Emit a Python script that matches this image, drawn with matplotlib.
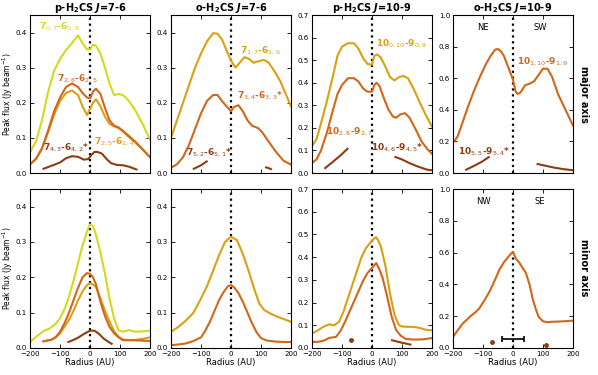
import matplotlib
matplotlib.use('Agg')
import matplotlib.pyplot as plt

# colours
C_YEL = '#d2da1c'
C_GLD = '#d9a012'
C_ORA = '#d2661a'
C_BRN = '#8e3c12'

# ---- top row: major axis ----
# p-H2CS J=7-6
r_p76 = [-200, -180, -160, -140, -120, -100, -80, -60, -40, -25, -10, 0, 10, 20, 35, 50, 65, 80, 95, 110, 130, 150, 175, 200]
maj_707 = [0.06, 0.09, 0.15, 0.23, 0.29, 0.325, 0.35, 0.37, 0.392, 0.37, 0.352, 0.352, 0.366, 0.362, 0.34, 0.3, 0.255, 0.222, 0.225, 0.222, 0.205, 0.18, 0.14, 0.095]
maj_726 = [0.025, 0.04, 0.07, 0.12, 0.175, 0.215, 0.245, 0.255, 0.245, 0.228, 0.215, 0.212, 0.232, 0.24, 0.225, 0.185, 0.15, 0.135, 0.13, 0.12, 0.105, 0.09, 0.068, 0.045]
maj_725 = [0.025, 0.04, 0.07, 0.115, 0.165, 0.205, 0.228, 0.235, 0.222, 0.19, 0.165, 0.183, 0.2, 0.21, 0.19, 0.16, 0.14, 0.133, 0.128, 0.118, 0.102, 0.088, 0.067, 0.045]
r_743 = [-155, -130, -100, -80, -60, -40, -20, -5, 5, 15, 25, 40, 55, 70, 90, 110, 130, 155]
maj_743 = [0.012, 0.02, 0.03, 0.042, 0.048, 0.046, 0.038, 0.04, 0.052, 0.06, 0.06, 0.055, 0.04, 0.028, 0.023, 0.022, 0.018, 0.01]

# o-H2CS J=7-6
r_o76 = [-200, -180, -160, -140, -120, -100, -80, -60, -45, -30, -15, 0, 15, 30, 45, 60, 75, 90, 110, 125, 145, 165, 185, 200]
maj_717 = [0.10, 0.15, 0.2, 0.25, 0.30, 0.34, 0.375, 0.398, 0.397, 0.38, 0.35, 0.32, 0.30, 0.315, 0.33, 0.325, 0.314, 0.318, 0.322, 0.315, 0.29, 0.26, 0.22, 0.19]
r_734 = [-200, -180, -160, -140, -120, -100, -80, -60, -45, -30, -15, 0, 10, 25, 40, 55, 70, 90, 105, 125, 150, 175, 200]
maj_734 = [0.015, 0.025, 0.045, 0.08, 0.125, 0.17, 0.205, 0.222, 0.222, 0.205, 0.19, 0.176, 0.188, 0.193, 0.175, 0.15, 0.135, 0.128, 0.115, 0.09, 0.06, 0.035, 0.024]
r_752a = [-124, -100, -81]
maj_752a = [0.012, 0.022, 0.033]
r_752b = [117, 125, 133]
maj_752b = [0.016, 0.014, 0.011]

# p-H2CS J=10-9
r_p109 = [-200, -185, -170, -150, -130, -115, -100, -80, -60, -45, -30, -15, 0, 8, 18, 30, 45, 60, 75, 90, 105, 120, 140, 160, 180, 200]
maj_1000 = [0.12, 0.15, 0.22, 0.32, 0.43, 0.52, 0.56, 0.575, 0.575, 0.55, 0.51, 0.483, 0.48, 0.52, 0.525, 0.51, 0.47, 0.425, 0.41, 0.425, 0.43, 0.42, 0.37, 0.31, 0.255, 0.205]
r_1028 = [-200, -185, -170, -150, -130, -115, -100, -80, -60, -45, -30, -15, 0, 8, 15, 25, 40, 55, 70, 80, 95, 110, 125, 145, 165, 185, 200]
maj_1028 = [0.045, 0.06, 0.1, 0.18, 0.28, 0.35, 0.39, 0.42, 0.42, 0.405, 0.375, 0.36, 0.36, 0.39, 0.40, 0.385, 0.33, 0.28, 0.25, 0.245, 0.26, 0.265, 0.245, 0.195, 0.14, 0.105, 0.085]
r_1046a = [-156, -130, -105, -82]
maj_1046a = [0.022, 0.05, 0.078, 0.107]
r_1046b = [78, 100, 123, 150, 183, 200]
maj_1046b = [0.071, 0.06, 0.045, 0.03, 0.015, 0.012]

# o-H2CS J=10-9
r_o109 = [-200, -185, -170, -150, -130, -110, -90, -75, -60, -50, -40, -30, -20, -10, 0, 8, 15, 25, 40, 55, 70, 85, 100, 115, 130, 150, 175, 200]
maj_1011 = [0.19, 0.23, 0.31, 0.42, 0.52, 0.61, 0.69, 0.74, 0.78, 0.785, 0.77, 0.74, 0.69, 0.64, 0.59, 0.52, 0.5, 0.51, 0.555, 0.565, 0.58, 0.62, 0.66, 0.66, 0.61, 0.5, 0.4, 0.3]
r_1055a = [-156, -130, -105, -81]
maj_1055a = [0.021, 0.045, 0.07, 0.1]
r_1055b = [82, 110, 140, 170, 200]
maj_1055b = [0.057, 0.045, 0.033, 0.024, 0.017]

# ---- bottom row: minor axis ----
r_m707 = [-200, -175, -155, -135, -115, -100, -85, -70, -55, -40, -25, -10, 0, 10, 20, 35, 50, 65, 80, 95, 110, 130, 150, 175, 200]
min_707 = [0.017, 0.035, 0.048, 0.055, 0.068, 0.084, 0.11, 0.145, 0.19, 0.24, 0.29, 0.33, 0.35, 0.345, 0.32, 0.27, 0.21, 0.14, 0.085, 0.05, 0.046, 0.051, 0.046, 0.047, 0.049]
r_m72 = [-155, -130, -115, -100, -85, -70, -55, -40, -25, -10, 0, 10, 20, 35, 50, 65, 80, 95, 110, 140, 170, 200]
min_726 = [0.019, 0.023, 0.03, 0.046, 0.07, 0.1, 0.135, 0.17, 0.2, 0.212, 0.21, 0.2, 0.18, 0.13, 0.09, 0.06, 0.042, 0.03, 0.022, 0.022, 0.021, 0.02]
min_725 = [0.019, 0.023, 0.03, 0.041, 0.06, 0.08, 0.105, 0.135, 0.16, 0.178, 0.183, 0.18, 0.172, 0.14, 0.105, 0.075, 0.048, 0.032, 0.024, 0.022, 0.025, 0.03]
r_m743 = [-72, -55, -40, -20, 0, 15, 30, 45, 60, 72]
min_743 = [0.017, 0.023, 0.029, 0.04, 0.049, 0.049, 0.04, 0.027, 0.018, 0.012]

r_m717 = [-200, -175, -150, -125, -100, -80, -60, -40, -20, 0, 20, 40, 60, 80, 95, 110, 130, 150, 175, 200]
min_717 = [0.046, 0.06, 0.078, 0.1, 0.14, 0.175, 0.218, 0.262, 0.3, 0.315, 0.305, 0.265, 0.215, 0.16, 0.125, 0.108, 0.098, 0.09, 0.082, 0.074]
r_m734 = [-200, -175, -150, -125, -100, -85, -70, -55, -40, -25, -10, 0, 10, 25, 40, 55, 70, 85, 100, 120, 150, 175, 200]
min_734 = [0.008, 0.01, 0.013, 0.02, 0.03, 0.05, 0.075, 0.105, 0.135, 0.158, 0.175, 0.178, 0.172, 0.155, 0.13, 0.1, 0.07, 0.045, 0.028, 0.021, 0.018, 0.017, 0.017]

r_m1000 = [-200, -180, -160, -143, -126, -110, -95, -80, -65, -50, -35, -20, -5, 5, 14, 22, 30, 45, 60, 75, 90, 100, 120, 140, 160, 180, 200]
min_1000 = [0.064, 0.078, 0.095, 0.104, 0.1, 0.115, 0.16, 0.22, 0.28, 0.34, 0.4, 0.44, 0.465, 0.48, 0.488, 0.47, 0.445, 0.36, 0.24, 0.145, 0.1, 0.095, 0.093, 0.093, 0.088, 0.08, 0.078]
r_m1028 = [-200, -180, -160, -143, -120, -105, -90, -75, -60, -45, -30, -15, -5, 5, 14, 25, 35, 50, 65, 80, 95, 112, 140, 170, 200]
min_1028 = [0.027, 0.027, 0.033, 0.044, 0.049, 0.075, 0.115, 0.16, 0.205, 0.25, 0.295, 0.33, 0.345, 0.36, 0.374, 0.345, 0.31, 0.23, 0.14, 0.08, 0.055, 0.04, 0.037, 0.038, 0.044]
r_m1046 = [67, 85, 100, 115, 128]
min_1046 = [0.034, 0.028, 0.023, 0.019, 0.015]
dot_p109 = (-71, 0.034)

r_m1011 = [-200, -185, -167, -150, -139, -125, -112, -95, -78, -62, -45, -30, -18, -8, 0, 10, 20, 30, 43, 55, 65, 75, 85, 100, 115, 131, 160, 200]
min_1011 = [0.07, 0.11, 0.155, 0.185, 0.205, 0.225, 0.25, 0.3, 0.356, 0.42, 0.494, 0.54, 0.568, 0.59, 0.604, 0.56, 0.54, 0.51, 0.472, 0.4, 0.314, 0.25, 0.197, 0.168, 0.162, 0.165, 0.167, 0.172]
dots_o109 = ([-71, 110], [0.038, 0.017])
beam_y, beam_half = 0.055, 38

titles = [r'p-H$_\mathbf{2}$CS $\mathbfit{J}$=7-6', r'o-H$_\mathbf{2}$CS $\mathbfit{J}$=7-6',
          r'p-H$_\mathbf{2}$CS $\mathbfit{J}$=10-9', r'o-H$_\mathbf{2}$CS $\mathbfit{J}$=10-9']
ytops = [0.45, 0.45, 0.7, 1.0]
yticks = [[0.0, 0.1, 0.2, 0.3, 0.4], [0.0, 0.1, 0.2, 0.3, 0.4],
          [0.0, 0.1, 0.2, 0.3, 0.4, 0.5, 0.6, 0.7], [0.0, 0.2, 0.4, 0.6, 0.8, 1.0]]

W, H = 598, 375
fig = plt.figure(figsize=(W / 100, H / 100), dpi=100)
lefts = [30, 171, 312, 453]
axw = 120
rows = [(15, 173), (189, 348)]

axes = {}
for ri, (yt, yb) in enumerate(rows):
    for ci, lx in enumerate(lefts):
        ax = fig.add_axes([lx / W, 1 - yb / H, axw / W, (yb - yt) / H])
        ax.set_xlim(-200, 200)
        ax.set_ylim(0, ytops[ci])
        ax.set_xticks([-200, -100, 0, 100, 200])
        ax.set_yticks(yticks[ci])
        ax.tick_params(direction='in', top=True, right=True, labelsize=5.1,
                       length=3, width=0.6, pad=2)
        for s in ax.spines.values():
            s.set_linewidth(0.8)
        ax.axvline(0, color='k', ls=':', lw=1.6)
        if ri == 0:
            ax.set_xticklabels([])
            ax.set_title(titles[ci], fontsize=7, fontweight='bold', pad=2)
        else:
            ax.set_xlabel('Radius (AU)', fontsize=6, labelpad=1)
        if ci == 0:
            ax.set_ylabel(r'Peak flux (Jy beam$^{-1}$)', fontsize=5.5)
            ax.yaxis.set_label_coords(-0.125, 0.5)
        axes[(ri, ci)] = ax

lw = 1.5
kw = dict(fontsize=6.5, fontweight='bold')

# panel 1
ax = axes[(0, 0)]
ax.plot(r_p76, maj_707, color=C_YEL, lw=lw)
ax.plot(r_p76, maj_725, color=C_GLD, lw=lw)
ax.plot(r_p76, maj_726, color=C_ORA, lw=lw)
ax.plot(r_743, maj_743, color=C_BRN, lw=lw)
ax.text(-170, 0.41, r'$\mathbf{7}_{0,7}$-$\mathbf{6}_{0,6}$', color=C_YEL, **kw)
ax.text(-110, 0.262, r'$\mathbf{7}_{2,6}$-$\mathbf{6}_{2,5}$', color=C_ORA, **kw)
ax.text(15, 0.083, r'$\mathbf{7}_{2,5}$-$\mathbf{6}_{2,4}$', color=C_GLD, **kw)
ax.text(-158, 0.064, r'$\mathbf{7}_{4,3}$-$\mathbf{6}_{4,2}$*', color=C_BRN, **kw)

# panel 2
ax = axes[(0, 1)]
ax.plot(r_o76, maj_717, color=C_GLD, lw=lw)
ax.plot(r_734, maj_734, color=C_ORA, lw=lw)
ax.plot(r_752a, maj_752a, color=C_BRN, lw=lw)
ax.plot(r_752b, maj_752b, color=C_BRN, lw=lw)
ax.text(30, 0.34, r'$\mathbf{7}_{1,7}$-$\mathbf{6}_{1,6}$', color=C_GLD, **kw)
ax.text(20, 0.212, r'$\mathbf{7}_{3,4}$-$\mathbf{6}_{3,3}$*', color=C_ORA, **kw)
ax.text(-150, 0.05, r'$\mathbf{7}_{5,2}$-$\mathbf{6}_{5,1}$*', color=C_BRN, **kw)

# panel 3
ax = axes[(0, 2)]
ax.plot(r_p109, maj_1000, color=C_GLD, lw=lw)
ax.plot(r_1028, maj_1028, color=C_ORA, lw=lw)
ax.plot(r_1046a, maj_1046a, color=C_BRN, lw=lw)
ax.plot(r_1046b, maj_1046b, color=C_BRN, lw=lw)
ax.text(12, 0.56, r'$\mathbf{10}_{0,10}$-$\mathbf{9}_{0,9}$', color=C_GLD, **kw)
ax.text(-155, 0.172, r'$\mathbf{10}_{2,8}$-$\mathbf{9}_{2,7}$', color=C_ORA, **kw)
ax.text(-2, 0.1, r'$\mathbf{10}_{4,6}$-$\mathbf{9}_{4,5}$*', color=C_BRN, **kw)

# panel 4
ax = axes[(0, 3)]
ax.plot(r_o109, maj_1011, color=C_ORA, lw=lw)
ax.plot(r_1055a, maj_1055a, color=C_BRN, lw=lw)
ax.plot(r_1055b, maj_1055b, color=C_BRN, lw=lw)
ax.text(12, 0.69, r'$\mathbf{10}_{1,10}$-$\mathbf{9}_{1,9}$', color=C_ORA, **kw)
ax.text(-182, 0.12, r'$\mathbf{10}_{5,5}$-$\mathbf{9}_{5,4}$*', color=C_BRN, **kw)
ax.text(-100, 0.92, 'NE', fontsize=6, ha='center', va='center')
ax.text(90, 0.92, 'SW', fontsize=6, ha='center', va='center')

# panel 5
ax = axes[(1, 0)]
ax.plot(r_m707, min_707, color=C_YEL, lw=lw)
ax.plot(r_m72, min_725, color=C_GLD, lw=lw)
ax.plot(r_m72, min_726, color=C_ORA, lw=lw)
ax.plot(r_m743, min_743, color=C_BRN, lw=lw)

# panel 6
ax = axes[(1, 1)]
ax.plot(r_m717, min_717, color=C_GLD, lw=lw)
ax.plot(r_m734, min_734, color=C_ORA, lw=lw)

# panel 7
ax = axes[(1, 2)]
ax.plot(r_m1000, min_1000, color=C_GLD, lw=lw)
ax.plot(r_m1028, min_1028, color=C_ORA, lw=lw)
ax.plot(r_m1046, min_1046, color=C_BRN, lw=lw)
ax.plot([dot_p109[0]], [dot_p109[1]], 'o', color=C_BRN, ms=2.5)

# panel 8
ax = axes[(1, 3)]
ax.plot(r_m1011, min_1011, color=C_ORA, lw=lw)
ax.plot(dots_o109[0], dots_o109[1], 'o', color=C_BRN, ms=2.5, ls='none')
ax.errorbar([0], [beam_y], xerr=[beam_half], color='k', lw=1.2, capsize=2, capthick=1.2)
ax.text(-100, 0.92, 'NW', fontsize=6, ha='center', va='center')
ax.text(90, 0.92, 'SE', fontsize=6, ha='center', va='center')

fig.text(584 / W, 1 - 94 / H, 'major axis', rotation=270, fontsize=7,
         fontweight='bold', ha='center', va='center')
fig.text(584 / W, 1 - 268 / H, 'minor axis', rotation=270, fontsize=7,
         fontweight='bold', ha='center', va='center')

fig.savefig('out.png', dpi=100)
plt.close(fig)
